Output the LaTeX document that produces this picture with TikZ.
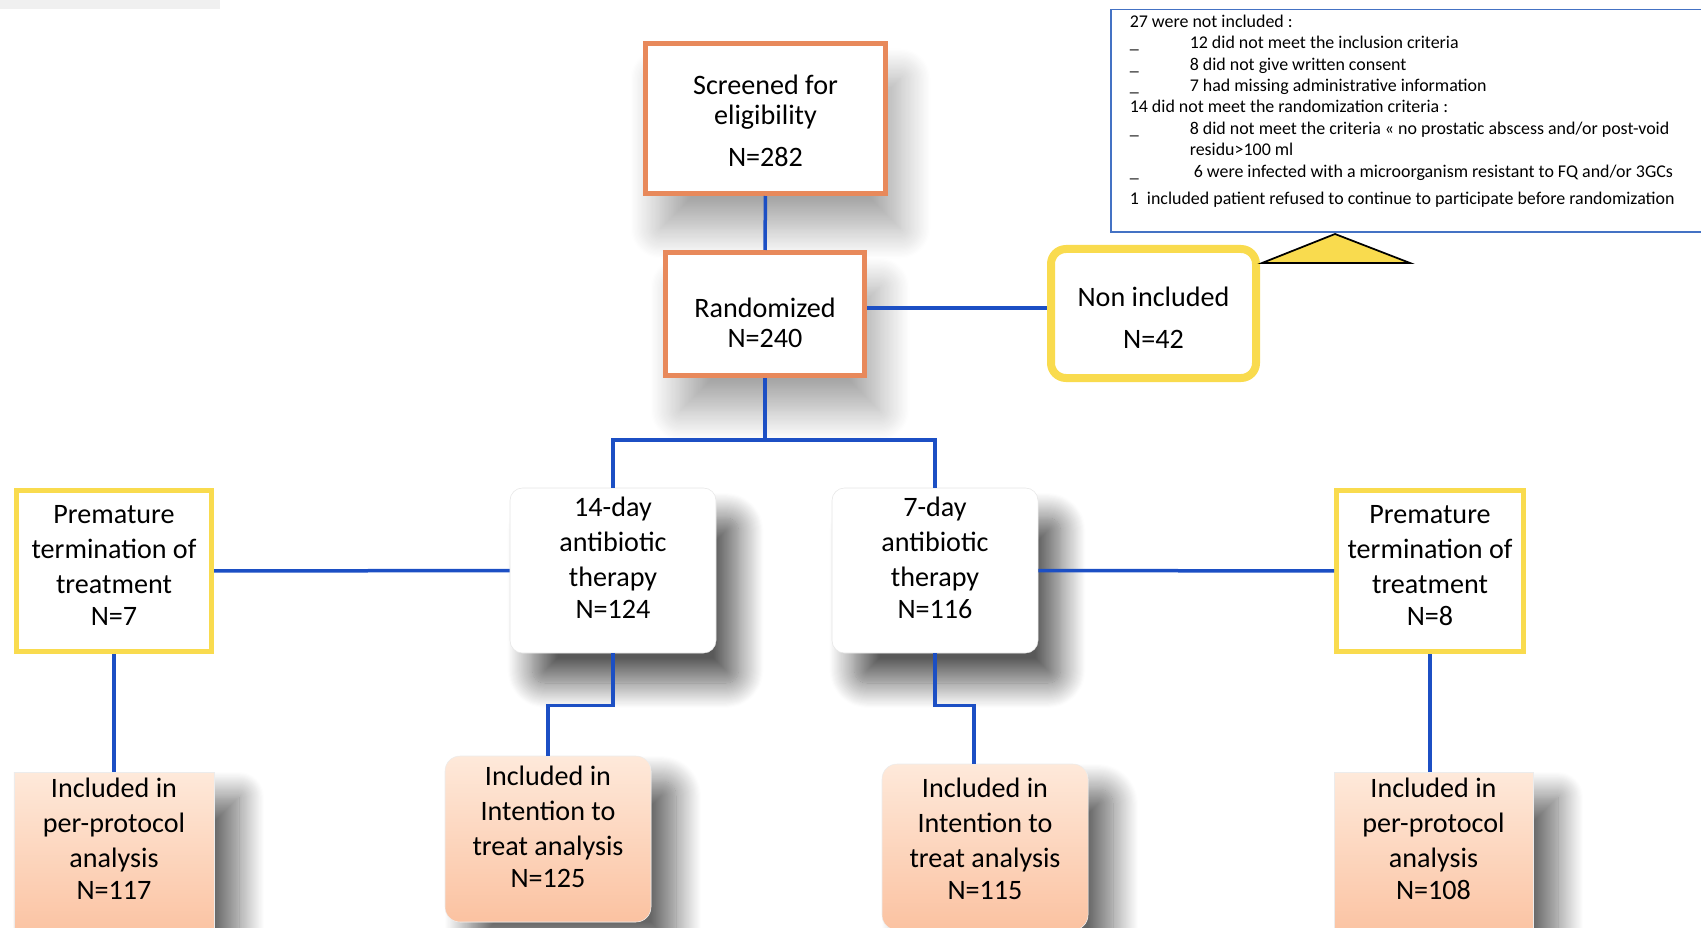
\documentclass[tikz,border=0pt]{standalone}
\usepackage{fontspec}
\setmainfont{Carlito}
\usepackage{xcolor}
\usepackage{tikz}
\usetikzlibrary{positioning,shadows.blur}
\definecolor{wire}{HTML}{1C4FC4}
\definecolor{rim}{HTML}{E8895B}
\definecolor{sun}{HTML}{F9DB4E}
\definecolor{frame}{HTML}{4472C4}
\definecolor{peachtop}{HTML}{FEE9DA}
\definecolor{peachbot}{HTML}{FBC2A1}
\definecolor{mist}{HTML}{F0F0F0}
\tikzset{
  box/.style={rectangle, align=center, fill=white, inner sep=2pt,
              font=\fontsize{16}{20}\selectfont},
  screen/.style={box, draw=rim, line width=1mm,
                 blur shadow={shadow xshift=3mm, shadow yshift=-7mm,
                              shadow blur radius=6mm, shadow blur steps=24,
                              shadow opacity=35}},
  nonin/.style={box, draw=sun, line width=1.6mm, rounded corners=3mm},
  arm/.style={box, draw=gray!20, line width=0.3pt, rounded corners=2.5mm,
              minimum width=41.2mm, minimum height=33mm,
              blur shadow={shadow xshift=4.5mm, shadow yshift=-6mm,
                           shadow blur radius=5mm, shadow blur steps=24,
                           shadow opacity=65}},
  halt/.style={box, draw=sun, line width=1mm, minimum height=32.2mm},
  anal/.style={box, draw=gray!15, line width=0.3pt, top color=peachtop,
               bottom color=peachbot, minimum height=33.2mm,
               blur shadow={shadow xshift=5mm, shadow yshift=-5mm,
                            shadow blur radius=5mm, shadow blur steps=24,
                            shadow opacity=60}},
  fl/.style={draw=wire, line width=0.7mm},
  note/.style={rectangle, draw=frame, line width=0.3mm, fill=white,
               inner xsep=3.8mm, inner ysep=1mm,
               font=\fontsize{10.2}{12.2}\selectfont}
}
% text block moved up (#1 > 0) or down inside its box
\newcommand{\lifted}[2]{\raisebox{#1}[\height][\depth]{\begin{tabular}{@{}c@{}}#2\end{tabular}}}

\begin{document}
\begin{tikzpicture}[x=0.2mm, y=-0.2mm]
  \clip (0,0) rectangle (1701,928);
  \fill[mist] (0,0) rectangle (220,9);
  % flow
  \node[screen, minimum width=48mm, minimum height=30mm] (scr) at (765.5,118.5)
    {\lifted{-1mm}{Screened for\\[-1mm]eligibility\\[1.4mm]N=282}};
  \node[screen, minimum width=39.8mm, minimum height=24.6mm] (rand) at (765,314)
    {\lifted{-2.3mm}{Randomized\\[-1mm]N=240}};
  \node[nonin, minimum width=41mm, minimum height=25.8mm] (nonin) at (1153.5,313.5)
    {\lifted{-1.4mm}{Non included\\[1.4mm]N=42}};
  \node[arm] (arm14) at (613,570.5)
    {\lifted{2mm}{14-day\\antibiotic\\therapy\\[-0.6mm]N=124}};
  \node[arm] (arm7) at (935,570.5)
    {\lifted{2mm}{7-day\\antibiotic\\therapy\\[-0.6mm]N=116}};
  \node[halt, minimum width=39mm] (stopL) at (114,571)
    {\lifted{0.7mm}{Premature\\termination of\\treatment\\[-0.6mm]N=7}};
  \node[halt, minimum width=37.4mm] (stopR) at (1430,571)
    {\lifted{0.7mm}{Premature\\termination of\\treatment\\[-0.6mm]N=8}};
  \node[anal, minimum width=40mm] (ppL) at (114,855)
    {\lifted{2.7mm}{Included in\\per-protocol\\analysis\\[-0.6mm]N=117}};
  \node[anal, rounded corners=3mm, minimum width=41.2mm] (itt14) at (548,839)
    {\lifted{1.9mm}{Included in\\Intention to\\treat analysis\\[-0.6mm]N=125}};
  \node[anal, rounded corners=3mm, minimum width=41.2mm] (itt7) at (985,847)
    {\lifted{1.1mm}{Included in\\Intention to\\treat analysis\\[-0.6mm]N=115}};
  \node[anal, minimum width=39.8mm] (ppR) at (1433.5,855)
    {\lifted{2.7mm}{Included in\\per-protocol\\analysis\\[-0.6mm]N=108}};
  % criteria
  \node[note, anchor=north west] (crit) at (1110,9)
    {\parbox[c][42.4mm][t]{125mm}{\raggedright
      27 were not included :\\
      \makebox[12mm][l]{\_}12 did not meet the inclusion criteria\\
      \makebox[12mm][l]{\_}8 did not give written consent\\
      \makebox[12mm][l]{\_}7 had missing administrative information\\
      14 did not meet the randomization criteria :\\
      \makebox[12mm][l]{\_}8 did not meet the criteria « no prostatic abscess and/or post-void\\
      \hspace*{12mm}residu>100 ml\\
      \makebox[12.8mm][l]{\_}6 were infected with a microorganism resistant to FQ and/or 3GCs\\[1.2mm]
      1\ \ included\ patient refused to continue to participate before randomization}};
  \coordinate (tipL) at (1262,263);
  \coordinate (tipT) at (1335,234);
  \coordinate (tipR) at (1410,263);
  \filldraw[fill=sun, draw=black, line width=0.35mm] (tipL) -- (tipT) -- (tipR) -- cycle;
  % connectors
  \coordinate (split) at (765,440);
  \draw[fl] (scr) -- (rand);
  \draw[fl] ([yshift=1.2mm]rand.east) -- ([yshift=1.2mm]rand.east -| nonin.west);
  \draw[fl] (rand) -- (split);
  \draw[fl] (split) -| (arm14);
  \draw[fl] (split) -| (arm7);
  \draw[fl] (stopL) -- (arm14);
  \draw[fl] (arm7) -- (stopR);
  \draw[fl] (stopL) -- (ppL);
  \draw[fl] (stopR.south) -- (stopR.south |- ppR.north);
  \draw[fl] (arm14.south) -- ++(0,52) -| (itt14.north);
  \draw[fl] (arm7.south) -- ++(0,52) -| ([xshift=-2.2mm]itt7.north);
\end{tikzpicture}
\end{document}
